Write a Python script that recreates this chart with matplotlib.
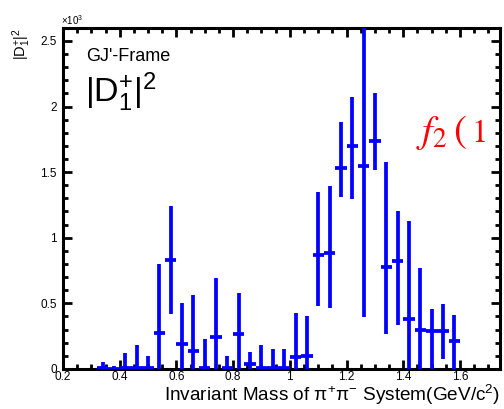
import matplotlib
matplotlib.use("Agg")
import matplotlib.pyplot as plt
from matplotlib.ticker import MultipleLocator, FuncFormatter

plt.rcParams['font.family'] = ['Liberation Sans', 'DejaVu Sans']

# bin centres (GeV/c^2)
mass = [0.34, 0.38, 0.42, 0.46, 0.50, 0.54, 0.58, 0.62, 0.66, 0.70, 0.74,
        0.78, 0.82, 0.86, 0.90, 0.94, 0.98, 1.02, 1.06, 1.10, 1.14, 1.18,
        1.22, 1.26, 1.30, 1.34, 1.38, 1.42, 1.46, 1.50, 1.54, 1.58]
# |D1+|^2 in units of 10^3
d1sq = [0.01, 0.00, 0.01, 0.01, 0.01, 0.276, 0.83, 0.19, 0.137, 0.01, 0.245,
        0.005, 0.265, 0.04, 0.01, 0.01, 0.01, 0.094, 0.10, 0.867, 0.887, 1.533,
        1.696, 1.544, 1.734, 0.778, 0.821, 0.378, 0.30, 0.291, 0.289, 0.213]
err_lo = [0.04, 0.02, 0.11, 0.17, 0.09, 0.52, 0.41, 0.31, 0.43, 0.22, 0.45,
          0.09, 0.315, 0.09, 0.17, 0.14, 0.14, 0.33, 0.305, 0.39, 0.42, 0.22,
          0.40, 1.15, 0.22, 0.51, 0.49, 0.50, 0.40, 0.35, 0.21, 0.25]
err_hi = [0.04, 0.025, 0.11, 0.17, 0.09, 0.52, 0.41, 0.31, 0.43, 0.22, 0.45,
          0.09, 0.315, 0.09, 0.17, 0.14, 0.14, 0.33, 0.305, 0.48, 0.51, 0.35,
          0.38, 1.15, 0.37, 0.80, 0.38, 0.75, 0.47, 0.165, 0.205, 0.20]
half_bin = 0.02

W, H = 504, 409
fig = plt.figure(figsize=(W / 100, H / 100), dpi=100)
ax = fig.add_axes([0.125, 0.098, 0.867, 0.834])

ax.errorbar(mass, d1sq, xerr=half_bin, yerr=[err_lo, err_hi], fmt='none',
            ecolor='#0000ff', elinewidth=2.7, capsize=0, zorder=3)

ax.set_xlim(0.2, 1.741)
ax.set_ylim(0, 2.6)

ax.xaxis.set_major_locator(MultipleLocator(0.2))
ax.xaxis.set_minor_locator(MultipleLocator(0.05))
ax.yaxis.set_major_locator(MultipleLocator(0.5))
ax.yaxis.set_minor_locator(MultipleLocator(0.1))
fmt = FuncFormatter(lambda v, p: ('%g' % round(v, 3)))
ax.xaxis.set_major_formatter(fmt)
ax.yaxis.set_major_formatter(fmt)

for s in ax.spines.values():
    s.set_linewidth(2.2)
ax.tick_params(which='both', direction='in', top=True, right=True,
               labelsize=8.5, colors='black')
ax.tick_params(which='major', length=6.5, width=2.0)
ax.tick_params(which='minor', length=3.5, width=2.0)
ax.tick_params(axis='x', which='major', pad=1.5)
ax.tick_params(axis='y', which='major', pad=4.5)

ax.set_xlabel(r'Invariant Mass of $\mathregular{π^{+}π^{-}}$ System(GeV/c$\mathregular{^{2}}$)',
              fontsize=13.7, loc='right', labelpad=0)

fig.text(0.122, 0.933, r'$\mathregular{×10^{3}}$', fontsize=7, ha='left', va='bottom')
fig.text(0.044, 0.932, r'$\mathregular{|D^{+}_{1}|^{2}}$', fontsize=10.5,
         rotation=90, ha='center', va='top')

ax.text(0.053, 0.94, "GJ'-Frame", transform=ax.transAxes, fontsize=13,
        ha='left', va='top')
ax.text(0.05, 0.81, r'$\mathregular{|D^{+}_{1}|^{2}}$', transform=ax.transAxes,
        fontsize=24.5, ha='left', va='center')

red = '#ff0000'
def px(x, y):
    return x / W, 1 - y / H
fig.text(*px(416, 141.7), r'$f_{2}$', color=red, fontsize=28, math_fontfamily='stix',
         ha='left', va='baseline')
fig.text(*px(453, 141.7), r'$($', color=red, fontsize=28, math_fontfamily='stix',
         ha='left', va='baseline')
fig.text(*px(471, 141.7), r'$\mathrm{1}$', color=red, fontsize=23.5, math_fontfamily='stix',
         ha='left', va='baseline')

fig.savefig('out.png', dpi=100)
